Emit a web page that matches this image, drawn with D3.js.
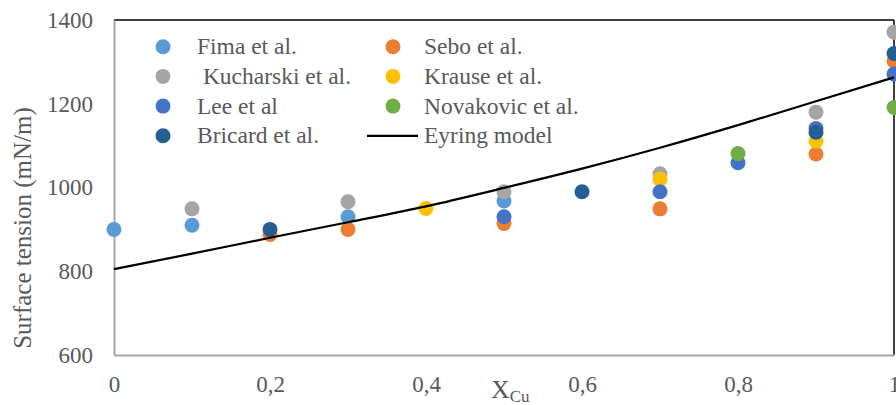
<!DOCTYPE html>
<html><head><meta charset="utf-8">
<script src="https://cdn.jsdelivr.net/npm/d3@7"></script>
<style>
html,body{margin:0;padding:0;background:#fff;}
svg{display:block;}
svg text{font-family:'Liberation Serif','DejaVu Serif',serif;}
</style></head>
<body><svg id="c" width="896" height="405"></svg>
<script>
const xTicks = [0, 0.2, 0.4, 0.6, 0.8, 1];
const yTicks = [600, 800, 1000, 1200, 1400];

const fimaX = [0, 0.1, 0.3, 0.5];
const fimaY = [900, 910, 930, 968];
const seboX = [0.2, 0.3, 0.5, 0.7, 0.9, 1.0];
const seboY = [888, 900, 914, 949, 1080, 1302];
const kucharskiX = [0.1, 0.3, 0.5, 0.7, 0.9, 1.0];
const kucharskiY = [949, 966, 990, 1033, 1180, 1371];
const krauseX = [0.4, 0.7, 0.9];
const krauseY = [950, 1020, 1111];
const leeX = [0.5, 0.7, 0.8, 0.9, 1.0];
const leeY = [930, 990, 1059, 1141, 1271];
const novakovicX = [0.8, 1.0];
const novakovicY = [1081, 1191];
const bricardX = [0.2, 0.6, 0.9, 1.0];
const bricardY = [900, 990, 1132, 1320];
const eyringX = [0, 0.1, 0.2, 0.3, 0.4, 0.5, 0.6, 0.7, 0.8, 0.9, 1.0];
const eyringY = [805, 842, 880, 917, 955, 999, 1045, 1095, 1149, 1206, 1263];

const series = [
  {name:"Fima et al.", xs:fimaX, ys:fimaY, color:"#5B9BD5"},
  {name:"Sebo et al.", xs:seboX, ys:seboY, color:"#ED7D31"},
  {name:" Kucharski et al.", xs:kucharskiX, ys:kucharskiY, color:"#A5A5A5"},
  {name:"Krause et al.", xs:krauseX, ys:krauseY, color:"#FFC000"},
  {name:"Lee et al", xs:leeX, ys:leeY, color:"#4472C4"},
  {name:"Novakovic et al.", xs:novakovicX, ys:novakovicY, color:"#70AD47"},
  {name:"Bricard et al.", xs:bricardX, ys:bricardY, color:"#255E91"}
];

const FONT = "'Liberation Serif','DejaVu Serif',serif";
const svg = d3.select("#c");
const L = 114, R = 894, T = 20, B = 355;
const x = d3.scaleLinear().domain([0,1]).range([L,R]);
const y = d3.scaleLinear().domain([600,1400]).range([B,T]);
const txt = "#595959";

svg.append("line").attr("x1",L).attr("x2",R).attr("y1",T).attr("y2",T).attr("stroke","#000").attr("stroke-width",1.5);
svg.append("line").attr("x1",R).attr("x2",R).attr("y1",T).attr("y2",B).attr("stroke","#000").attr("stroke-width",1.5);

const fmt = d => String(d).replace(".", ",");
const ax = svg.append("g").attr("transform",`translate(0,${B})`).call(d3.axisBottom(x).tickValues(xTicks).tickFormat(fmt).tickSize(0).tickPadding(14));
const ay = svg.append("g").attr("transform",`translate(${L},0)`).call(d3.axisLeft(y).tickValues(yTicks).tickFormat(d3.format("d")).tickSize(0).tickPadding(21));
[ax, ay].forEach(g => {
  g.attr("font-family", FONT);
  g.select(".domain").attr("stroke","#A6A6A6").attr("stroke-width",2);
  g.selectAll("text").attr("fill",txt).attr("font-size",23).attr("font-family",FONT);
});
ax.selectAll("text").attr("dy","1.0em");

series.forEach(s => {
  svg.append("g").selectAll("circle").data(s.xs.map((v,i)=>[v,s.ys[i]])).join("circle")
    .attr("cx",d=>x(d[0])).attr("cy",d=>y(d[1])).attr("r",7.5).attr("fill",s.color);
});

svg.append("path").datum(eyringX.map((v,i)=>[v,eyringY[i]]))
  .attr("d", d3.line().x(d=>x(d[0])).y(d=>y(d[1])).curve(d3.curveMonotoneX))
  .attr("fill","none").attr("stroke","#000").attr("stroke-width",2.2);

svg.append("text").attr("transform","translate(31,228) rotate(-90)").attr("text-anchor","middle")
  .attr("font-family",FONT).attr("fill",txt).attr("font-size",25).text("Surface tension (mN/m)");
const xt = svg.append("text").attr("x",491).attr("y",398).attr("fill",txt).attr("font-size",26).attr("font-family",FONT);
xt.append("tspan").text("X");
xt.append("tspan").attr("font-size",17).attr("dy",4).text("Cu");

const legItems = [
  {s:series[0], col:0,row:0},{s:series[1], col:1,row:0},
  {s:series[2], col:0,row:1},{s:series[3], col:1,row:1},
  {s:series[4], col:0,row:2},{s:series[5], col:1,row:2},
  {s:series[6], col:0,row:3},{s:{name:"Eyring model",color:"#000",line:true}, col:1,row:3}
];
const colX = [163, 393], textX = [197, 424], rowY0 = 46.7, rowDy = 29.7;
legItems.forEach(it => {
  const cy = rowY0 + it.row*rowDy;
  if (it.s.line) {
    svg.append("line").attr("x1",367).attr("x2",418).attr("y1",cy).attr("y2",cy).attr("stroke","#000").attr("stroke-width",2.2);
  } else {
    svg.append("circle").attr("cx",colX[it.col]).attr("cy",cy).attr("r",7.5).attr("fill",it.s.color);
  }
  svg.append("text").attr("x",textX[it.col]).attr("y",cy+7.5).attr("fill",txt).attr("font-size",23.5).attr("font-family",FONT)
    .attr("xml:space","preserve").style("white-space","pre").text(it.s.name);
});
</script></body></html>
